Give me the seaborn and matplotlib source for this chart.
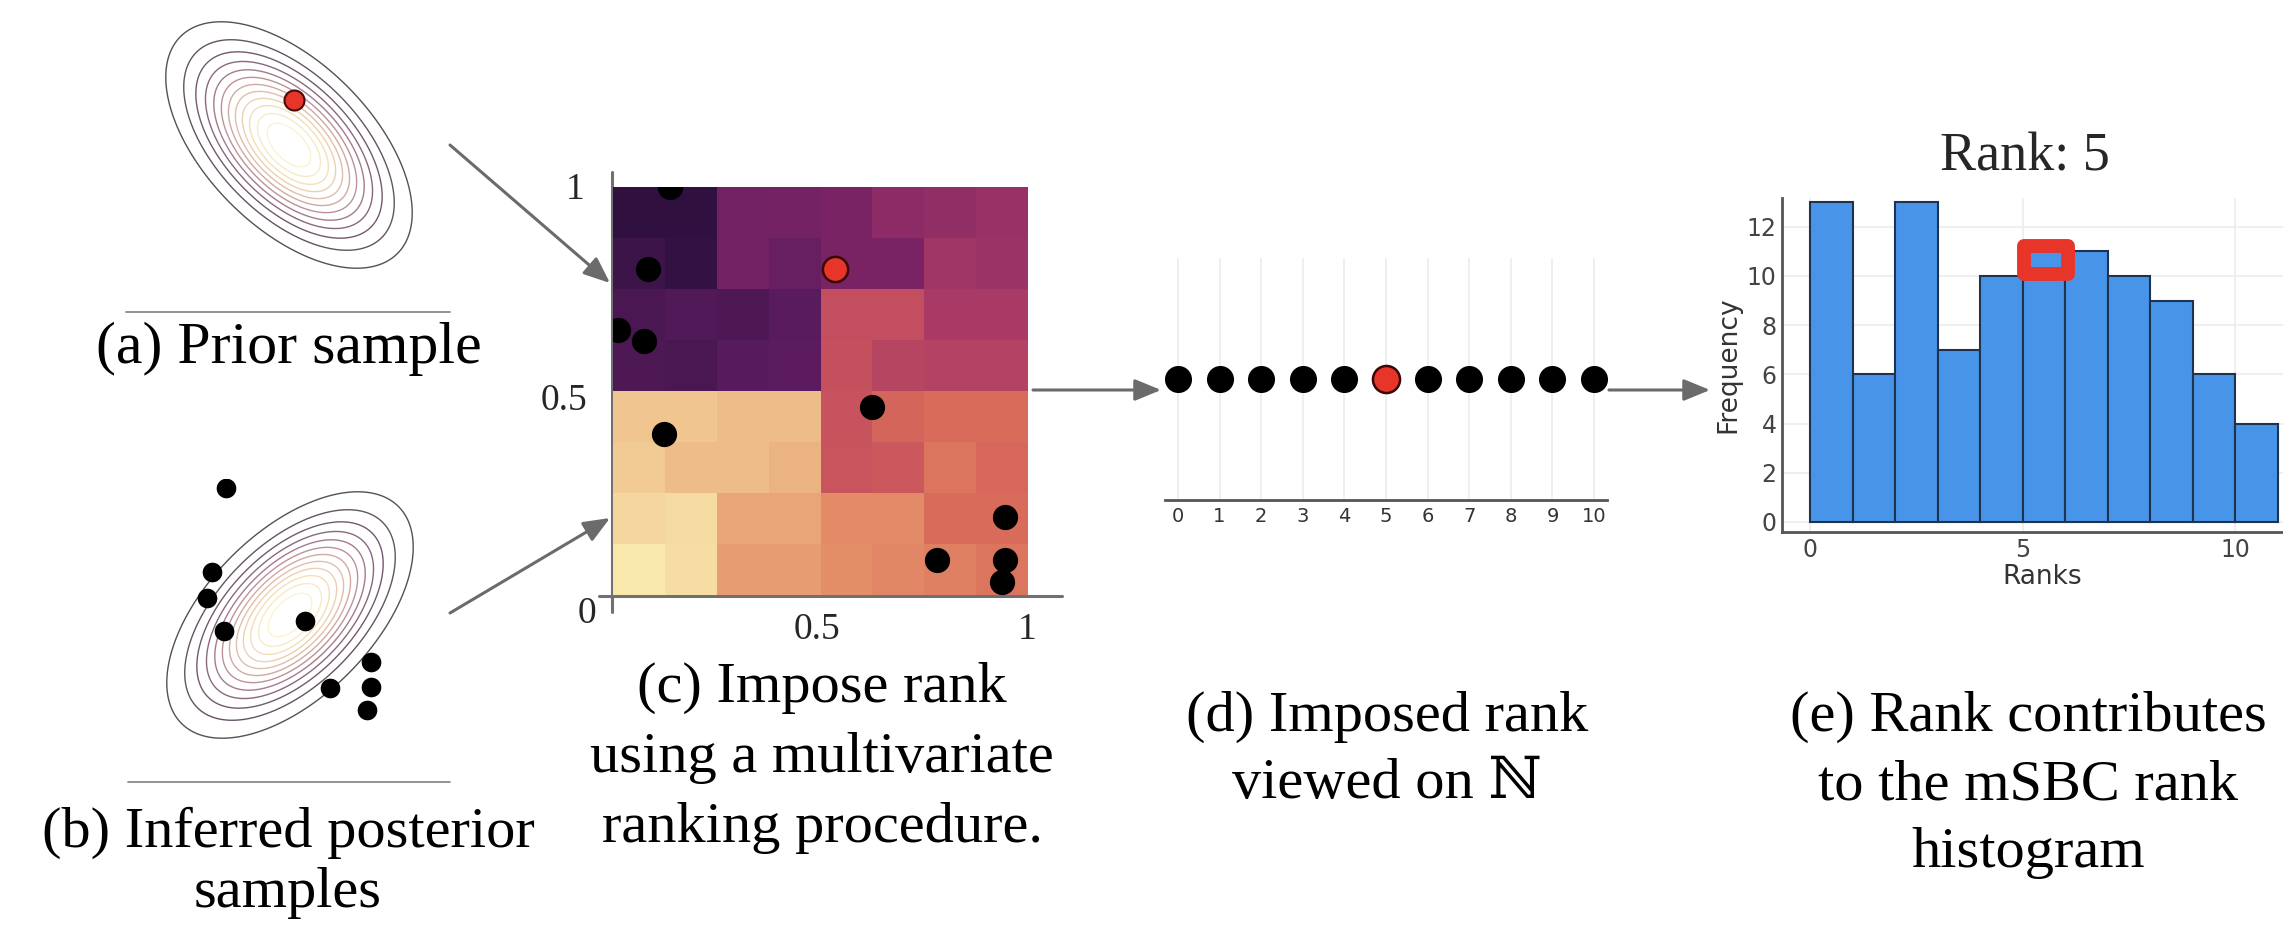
import matplotlib.pyplot as plt
import numpy as np
import pandas as pd
import seaborn as sns
from matplotlib.colors import LinearSegmentedColormap
from matplotlib.patches import Rectangle

W, H = 2283, 934

# (a) prior and (b) posterior gaussians, in standard units
prior_corr = -0.55
post_corr = 0.55
prior_draw_x = [0.09]
prior_draw_y = [0.83]
post_x = [-1.18, -1.43, -1.53, -1.21, 0.28, 1.49, 0.74, 1.49, 1.42]
post_y = [2.33, 0.79, 0.31, -0.29, -0.11, -0.86, -1.34, -1.33, -1.75]

# (c) ranking field on the unit square, top row first
rank_field = [
    [0.02, 0.02, 0.30, 0.31, 0.33, 0.40, 0.42, 0.44],
    [0.08, 0.04, 0.30, 0.26, 0.33, 0.33, 0.47, 0.45],
    [0.14, 0.17, 0.15, 0.20, 0.59, 0.59, 0.50, 0.50],
    [0.15, 0.14, 0.19, 0.21, 0.60, 0.55, 0.54, 0.54],
    [0.92, 0.92, 0.90, 0.90, 0.61, 0.68, 0.70, 0.70],
    [0.93, 0.90, 0.90, 0.88, 0.62, 0.63, 0.73, 0.69],
    [0.96, 0.965, 0.85, 0.85, 0.79, 0.79, 0.70, 0.70],
    [1.00, 0.975, 0.83, 0.83, 0.80, 0.78, 0.76, 0.73],
]
field_x = [0.137, 0.085, 0.013, 0.075, 0.123, 0.624, 0.945, 0.78, 0.945, 0.937]
field_y = [1.0, 0.80, 0.65, 0.623, 0.395, 0.461, 0.191, 0.086, 0.086, 0.032]
field_red_x = [0.535]
field_red_y = [0.80]

# (d) ranks on N
ranks = list(range(11))
observed_rank = 5

# (e) rank histogram
hist_ranks = list(range(11))
hist_counts = [13, 6, 13, 7, 10, 10, 11, 10, 9, 6, 4]

RED = "#e8352a"
BLUE = "#4894e8"
GREY = "#6b6b6b"
SERIF = ["Liberation Serif", "DejaVu Serif", "DejaVu Sans"]

field_cmap = LinearSegmentedColormap.from_list(
    "field",
    [
        (0.0, "#2a0f3c"),
        (0.2, "#5a1b5e"),
        (0.35, "#7e2465"),
        (0.5, "#a83a66"),
        (0.6, "#c4505e"),
        (0.7, "#d86a5a"),
        (0.8, "#e48e68"),
        (0.9, "#eebb88"),
        (1.0, "#f8e8ac"),
    ],
)
contour_cmap = LinearSegmentedColormap.from_list(
    "contour", ["#555055", "#6e566e", "#9a7388", "#c99ea0", "#e6c6ac",
                "#f4e2b8", "#faf3d2"]
)

sns.set_style("white")
plt.rcParams["font.family"] = ["DejaVu Sans"]

fig = plt.figure(figsize=(W / 100, H / 100), dpi=100)


def px_axes(x0, y0, x1, y1):
    return fig.add_axes([x0 / W, 1 - y1 / H, (x1 - x0) / W, (y1 - y0) / H])


# overlay in pixel coordinates for arrows, rules and captions
ov = fig.add_axes([0, 0, 1, 1])
ov.set_xlim(0, W)
ov.set_ylim(H, 0)
ov.axis("off")
ov.patch.set_alpha(0)


def arrow(x0, y0, x1, y1):
    ov.annotate(
        "", xy=(x1, y1), xytext=(x0, y0),
        arrowprops=dict(arrowstyle="-|>,head_length=0.8,head_width=0.33",
                        color=GREY, lw=2.2, shrinkA=0, shrinkB=0,
                        mutation_scale=20),
    )


def caption(x, y, lines, step=69, size=42):
    for i, line in enumerate(lines):
        ov.text(x, y + i * step, line, ha="center", va="center",
                fontsize=size, family=SERIF, color="black")


def gauss_panel(ax, corr):
    g = np.linspace(-2.5, 2.5, 300)
    X, Y = np.meshgrid(g, g)
    Z = np.exp(-0.5 * (X**2 - 2 * corr * X * Y + Y**2) / (1 - corr**2))
    levels = np.arange(1, 13) / 13
    ax.contour(X, Y, Z, levels=levels, cmap=contour_cmap, vmin=levels[0],
               vmax=levels[-1], linewidths=1.0)
    ax.set_xlim(-2.5, 2.5)
    ax.set_ylim(-2.5, 2.5)
    ax.axis("off")


# (a) prior sample
ax_a = px_axes(153, 9, 425, 281)
gauss_panel(ax_a, prior_corr)
sns.scatterplot(x=prior_draw_x, y=prior_draw_y, color=RED, edgecolor="#4a0a0a",
                linewidth=1.5, s=207, ax=ax_a, zorder=5)
ov.plot([126, 450], [312, 312], color="#8a8a8a", lw=1.3)
caption(289, 349, ["(a) Prior sample"], size=43)

# (b) posterior samples
ax_b = px_axes(154, 479, 426, 751)
gauss_panel(ax_b, post_corr)
sns.scatterplot(x=post_x, y=post_y, color="black", linewidth=0, s=200,
                ax=ax_b, zorder=5)
ov.plot([128, 450], [782, 782], color="#8a8a8a", lw=1.3)
caption(288, 833, ["(b) Inferred posterior", "samples"], step=60)

# (c) imposed rank on the unit square
ax_c = px_axes(613, 187, 1028, 595)
sns.heatmap(np.array(rank_field), cmap=field_cmap, vmin=0, vmax=1, cbar=False,
            xticklabels=False, yticklabels=False, ax=ax_c)
n = len(rank_field)
sns.scatterplot(x=np.array(field_x) * n, y=(1 - np.array(field_y)) * n,
                color="black", linewidth=0, s=330, ax=ax_c, zorder=5)
sns.scatterplot(x=np.array(field_red_x) * n, y=(1 - np.array(field_red_y)) * n,
                color=RED, edgecolor="#3a0606", linewidth=1.8, s=330, ax=ax_c,
                zorder=6)
ax_c.set_xlim(0, n)
ax_c.set_ylim(n, 0)
ax_c.set_xlabel("")
ax_c.set_ylabel("")
ov.plot([612, 612], [172, 612], color="#707070", lw=2.2)
ov.plot([599, 1062], [596, 596], color="#707070", lw=2.2)
for x, y, s in [(575, 190, "1"), (564, 401, "0.5"), (587, 614, "0"),
                (817, 630, "0.5"), (1027, 630, "1")]:
    ov.text(x, y, s, ha="center", va="center", fontsize=27, family=SERIF)
caption(822, 688, ["(c) Impose rank", "using a multivariate",
                   "ranking procedure."], step=70)

arrow(450, 145, 610, 283)
arrow(450, 613, 610, 518)

# (d) rank viewed on N
ax_d = px_axes(1165, 258, 1607, 500)
others = [r for r in ranks if r != observed_rank]
sns.scatterplot(x=others, y=[0] * len(others), color="black", linewidth=0,
                s=380, ax=ax_d, zorder=5)
sns.scatterplot(x=[observed_rank], y=[0], color=RED, edgecolor="#3a0606",
                linewidth=1.8, s=380, ax=ax_d, zorder=6)
ax_d.set_xlim(-0.31, 10.31)
ax_d.set_ylim(-1, 1)
ax_d.set_xticks(ranks)
ax_d.set_yticks([])
ax_d.grid(axis="x", color="#ececec", lw=1.2)
ax_d.set_axisbelow(True)
for side in ["top", "left", "right"]:
    ax_d.spines[side].set_visible(False)
ax_d.spines["bottom"].set_color("#555555")
ax_d.spines["bottom"].set_linewidth(2)
ax_d.tick_params(axis="x", labelsize=14, colors="#333333", length=3,
                 color="#999999", pad=2)
ax_d.patch.set_alpha(0)
caption(1387, 717, ["(d) Imposed rank", "viewed on ℕ"], step=67)

arrow(1033, 390, 1161, 390)
arrow(1609, 390, 1710, 390)

# (e) rank histogram
hist_df = pd.DataFrame({"rank": hist_ranks, "count": hist_counts})
ax_e = px_axes(1782, 198, 2303, 532)
sns.histplot(data=hist_df, x="rank", weights="count", bins=len(hist_ranks),
             binrange=(0, len(hist_ranks)), color=BLUE, edgecolor="#1d3350",
             linewidth=1.5, alpha=1, ax=ax_e)
ax_e.add_patch(Rectangle((5.03, 10.1), 1.04, 1.1, facecolor=BLUE,
                         edgecolor=RED, lw=10, joinstyle="round", zorder=5))
ax_e.set_xlim(-0.66, 11.6)
ax_e.set_ylim(-0.41, 13.17)
ax_e.set_xticks([0, 5, 10])
ax_e.set_yticks(range(0, 13, 2))
ax_e.grid(True, color="#ececec", lw=1.2)
ax_e.set_axisbelow(True)
for side in ["top", "right"]:
    ax_e.spines[side].set_visible(False)
for side in ["left", "bottom"]:
    ax_e.spines[side].set_color("#555555")
    ax_e.spines[side].set_linewidth(2)
ax_e.tick_params(labelsize=17, colors="#444444", length=0, pad=4)
ax_e.set_xlabel("Ranks", fontsize=19, color="#333333", labelpad=2)
ax_e.set_ylabel("Frequency", fontsize=19, color="#333333", labelpad=4)
ov.text(2025, 157, "Rank: 5", ha="center", va="center", fontsize=39,
        family=SERIF)
caption(2028, 717, ["(e) Rank contributes", "to the mSBC rank", "histogram"],
        step=68)

fig.savefig("out.png", dpi=100)
